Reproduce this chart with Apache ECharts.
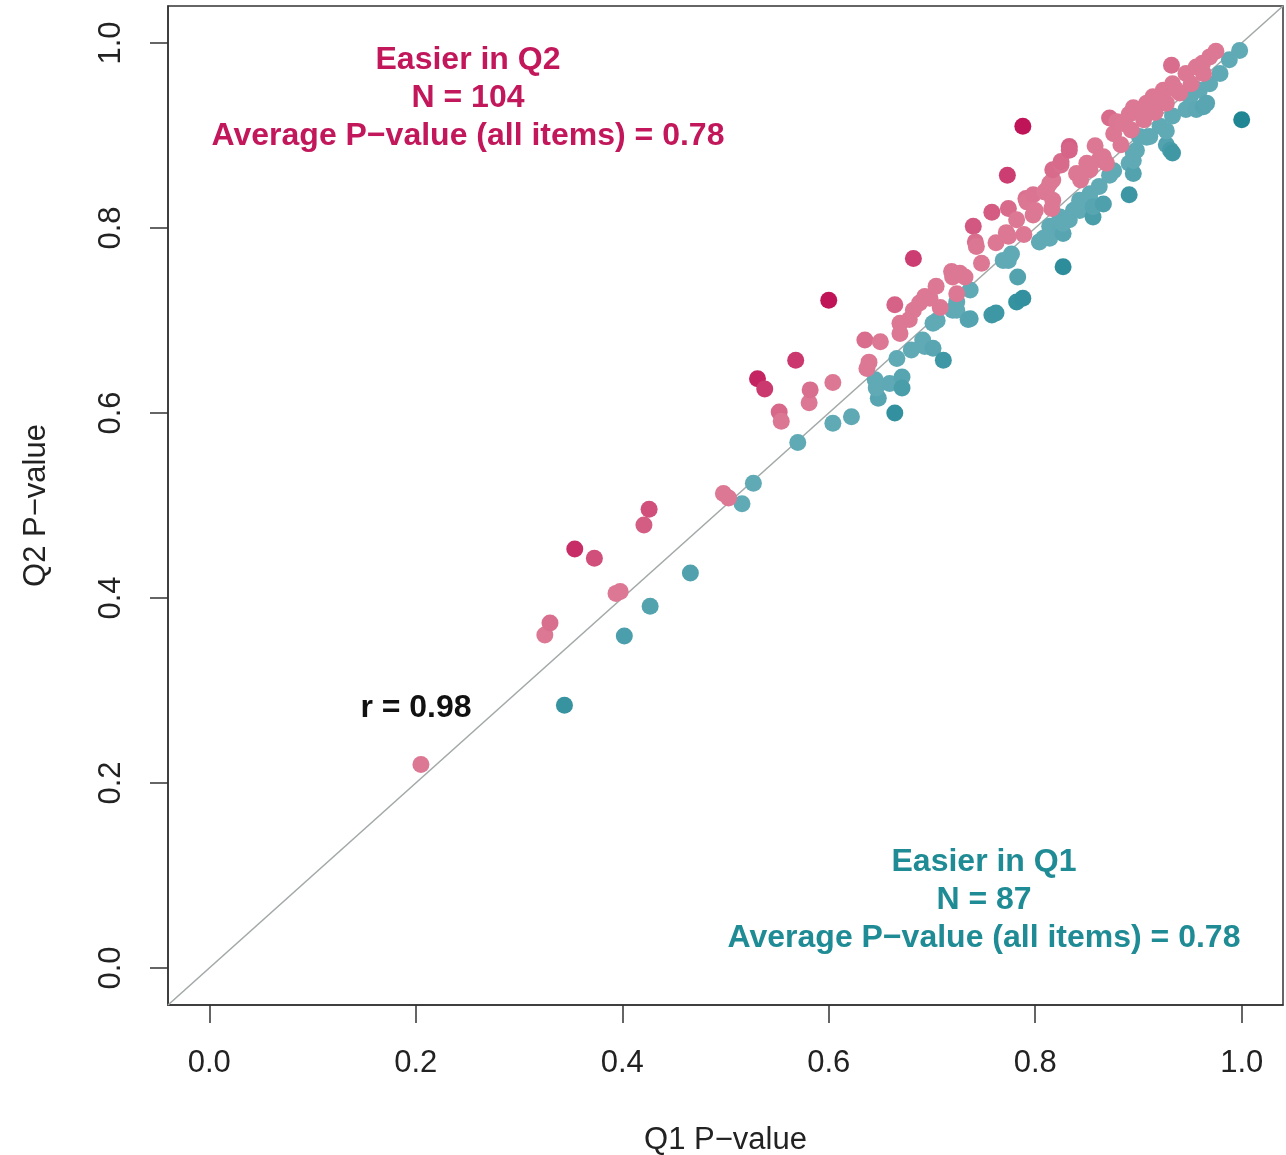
<!DOCTYPE html>
<html>
<head>
<meta charset="utf-8">
<script src="https://cdn.jsdelivr.net/npm/echarts@6/dist/echarts.min.js"></script>
<style>
  html, body { margin: 0; padding: 0; background: #fff; }
  #chart { width: 1286px; height: 1155px; }
</style>
</head>
<body>
<div id="chart"></div>
<script>
// Q1 / Q2 p-values, items easier in Q2 (above the line)
var easierQ2 = [
  [0.205, 0.220], [0.325, 0.360], [0.330, 0.373], [0.354, 0.453], [0.373, 0.443],
  [0.394, 0.405], [0.398, 0.407], [0.421, 0.479], [0.426, 0.496], [0.498, 0.513],
  [0.503, 0.508], [0.531, 0.637], [0.538, 0.626], [0.552, 0.601], [0.554, 0.591],
  [0.568, 0.657], [0.581, 0.611], [0.582, 0.625], [0.600, 0.722], [0.604, 0.633],
  [0.635, 0.679], [0.650, 0.677], [0.637, 0.648], [0.639, 0.655], [0.664, 0.717],
  [0.669, 0.686], [0.669, 0.697], [0.678, 0.701], [0.682, 0.711], [0.682, 0.767],
  [0.688, 0.719], [0.693, 0.726], [0.698, 0.724], [0.704, 0.737], [0.719, 0.753],
  [0.720, 0.747], [0.727, 0.751], [0.724, 0.729], [0.732, 0.747], [0.740, 0.802],
  [0.742, 0.785], [0.743, 0.780], [0.748, 0.762], [0.758, 0.817], [0.762, 0.784],
  [0.773, 0.857], [0.774, 0.791], [0.774, 0.821], [0.782, 0.809], [0.789, 0.793],
  [0.772, 0.795], [0.788, 0.910], [0.791, 0.832], [0.792, 0.828], [0.798, 0.836],
  [0.798, 0.814], [0.800, 0.819], [0.809, 0.839], [0.811, 0.841], [0.814, 0.848],
  [0.817, 0.852], [0.816, 0.821], [0.817, 0.830], [0.817, 0.863], [0.825, 0.868],
  [0.825, 0.872], [0.833, 0.888], [0.833, 0.884], [0.840, 0.859], [0.844, 0.852],
  [0.850, 0.870], [0.853, 0.863], [0.858, 0.889], [0.862, 0.874], [0.866, 0.877],
  [0.869, 0.870], [0.872, 0.919], [0.876, 0.902], [0.879, 0.915], [0.883, 0.890],
  [0.885, 0.913], [0.891, 0.923], [0.893, 0.906], [0.901, 0.928], [0.905, 0.917],
  [0.914, 0.942], [0.916, 0.925], [0.924, 0.949], [0.927, 0.935], [0.932, 0.976],
  [0.933, 0.956], [0.940, 0.946], [0.946, 0.967], [0.951, 0.956], [0.956, 0.974],
  [0.963, 0.967], [0.969, 0.985], [0.975, 0.991], [0.895, 0.930], [0.908, 0.935],
  [0.920, 0.938], [0.936, 0.950], [0.962, 0.978], [0.708, 0.714]
];

// items easier in Q1 (below the line)
var easierQ1 = [
  [0.344, 0.284], [0.402, 0.359], [0.427, 0.391], [0.466, 0.427], [0.516, 0.502],
  [0.527, 0.524], [0.570, 0.568], [0.604, 0.589], [0.622, 0.596], [0.645, 0.636],
  [0.648, 0.616], [0.646, 0.627], [0.659, 0.632], [0.671, 0.639], [0.671, 0.627],
  [0.664, 0.600], [0.666, 0.659], [0.680, 0.668], [0.691, 0.679], [0.693, 0.672],
  [0.701, 0.670], [0.701, 0.697], [0.705, 0.700], [0.711, 0.657], [0.720, 0.711],
  [0.724, 0.711], [0.724, 0.720], [0.735, 0.701], [0.737, 0.702], [0.737, 0.733],
  [0.758, 0.706], [0.762, 0.708], [0.769, 0.765], [0.774, 0.765], [0.777, 0.772],
  [0.782, 0.720], [0.788, 0.724], [0.783, 0.747], [0.804, 0.785], [0.808, 0.789],
  [0.814, 0.789], [0.814, 0.802], [0.817, 0.798], [0.824, 0.798], [0.824, 0.812],
  [0.827, 0.794], [0.827, 0.805], [0.827, 0.758], [0.833, 0.809], [0.837, 0.819],
  [0.840, 0.821], [0.843, 0.819], [0.843, 0.830], [0.853, 0.830], [0.853, 0.837],
  [0.856, 0.812], [0.856, 0.823], [0.862, 0.845], [0.866, 0.826], [0.872, 0.857],
  [0.876, 0.862], [0.891, 0.836], [0.891, 0.870], [0.895, 0.859], [0.895, 0.873],
  [0.895, 0.881], [0.898, 0.884], [0.901, 0.899], [0.908, 0.898], [0.911, 0.899],
  [0.921, 0.910], [0.927, 0.890], [0.927, 0.905], [0.931, 0.884], [0.933, 0.881],
  [0.933, 0.921], [0.946, 0.928], [0.950, 0.942], [0.956, 0.928], [0.959, 0.949],
  [0.963, 0.931], [0.966, 0.935], [0.969, 0.956], [0.979, 0.967], [0.988, 0.982],
  [0.998, 0.992], [1.000, 0.917]
];

var tickValues = [0, 0.2, 0.4, 0.6, 0.8, 1.0];
var axisMin = -0.04;
var axisMax = 1.04;

var q2Label = ['Easier in Q2', 'N = 104', 'Average P\u2212value (all items) = 0.78'];
var q1Label = ['Easier in Q1', 'N = 87', 'Average P\u2212value (all items) = 0.78'];
var rLabel = 'r = 0.98';

var FONT = '"Liberation Sans", Arial, Helvetica, sans-serif';

// colour gets deeper the further a point is from the diagonal
function mix(a, b, t) {
  t = Math.max(0, Math.min(1, t));
  var c = a.map(function (v, i) { return Math.round(v + (b[i] - v) * t) });
  return 'rgb(' + c.join(',') + ')';
}
function pinkColor(p) {
  var d = p.data[1] - p.data[0];
  return mix([220, 120, 148], [192, 20, 88], (d - 0.035) / 0.085);
}
function tealColor(p) {
  var d = p.data[0] - p.data[1];
  return mix([96, 170, 182], [32, 134, 148], (d - 0.025) / 0.055);
}

var myChart = echarts.init(document.getElementById('chart'));

function axisCommon() {
  return {
    type: 'value',
    min: axisMin,
    max: axisMax,
    splitLine: { show: false },
    axisLine: { show: true, onZero: false, lineStyle: { color: '#333', width: 1.5 } },
    axisTick: {
      show: true,
      length: 18,
      customValues: tickValues,
      lineStyle: { color: '#333', width: 1.5 }
    },
    axisLabel: {
      customValues: tickValues,
      color: '#222',
      fontSize: 31,
      fontFamily: FONT,
      formatter: function (v) { return v.toFixed(1) }
    },
    nameLocation: 'middle',
    nameTextStyle: { color: '#222', fontSize: 31, fontFamily: FONT }
  };
}

var xAxis = axisCommon();
xAxis.name = 'Q1 P\u2212value';
xAxis.nameGap = 120;
xAxis.axisLabel.margin = 43;

var yAxis = axisCommon();
yAxis.name = 'Q2 P\u2212value';
yAxis.nameGap = 116;
yAxis.axisLabel.margin = 41;
yAxis.axisLabel.rotate = 90;

function textBlock(lines, cx, cy, color) {
  return lines.map(function (t, i) {
    return {
      type: 'text',
      x: cx,
      y: cy + i * 38,
      style: {
        text: t,
        fill: color,
        font: 'bold 32px ' + FONT,
        textAlign: 'center',
        textVerticalAlign: 'middle'
      }
    };
  });
}

var option = {
  animation: false,
  backgroundColor: '#fff',
  grid: {
    left: 168, right: 3, top: 6, bottom: 150,
    outerBoundsMode: 'none',
    show: true, borderColor: '#333', borderWidth: 1.5
  },
  xAxis: xAxis,
  yAxis: yAxis,
  graphic: []
    .concat(textBlock(q2Label, 468, 60, '#c2185b'))
    .concat(textBlock(q1Label, 984, 862, '#1f8b95'))
    .concat(textBlock([rLabel], 416, 708, '#111')),
  series: [
    {
      name: 'diagonal',
      type: 'line',
      data: [[axisMin, axisMin], [axisMax, axisMax]],
      symbol: 'none',
      silent: true,
      lineStyle: { color: '#a3a9a9', width: 1.6 },
      z: 1
    },
    {
      name: 'Easier in Q1',
      type: 'scatter',
      data: easierQ1,
      symbolSize: 17,
      itemStyle: { color: tealColor, opacity: 1 },
      z: 2
    },
    {
      name: 'Easier in Q2',
      type: 'scatter',
      data: easierQ2,
      symbolSize: 17,
      itemStyle: { color: pinkColor, opacity: 1 },
      z: 3
    }
  ]
};

myChart.setOption(option);

window.addEventListener('resize', function () {
  myChart.resize()
})
</script>
</body>
</html>
